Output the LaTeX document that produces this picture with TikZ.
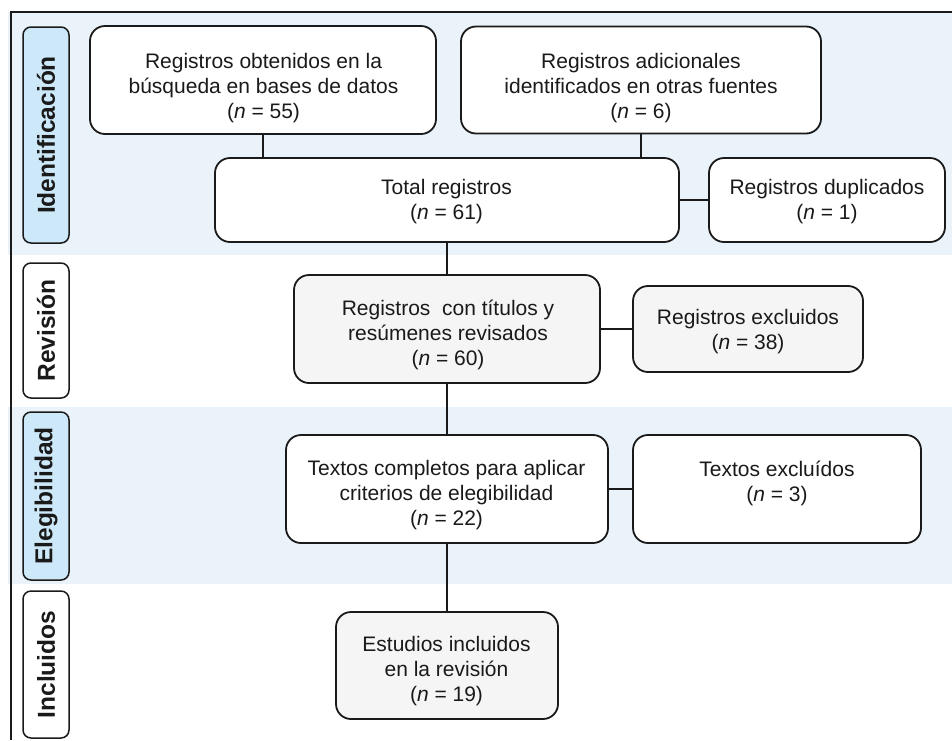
\documentclass[tikz,border=0pt]{standalone}
\usepackage{fontspec}
\setmainfont{Liberation Sans}
\definecolor{bandblue}{HTML}{EAF2FA}
\definecolor{labblue}{HTML}{CDE9F9}
\definecolor{boxgray}{HTML}{F5F5F5}
\definecolor{ink}{HTML}{1A1A1A}
\tikzset{
  box/.style={draw=ink, line width=1.8pt, rounded corners=15pt, inner sep=0pt},
  whitebox/.style={box, fill=white},
  graybox/.style={box, fill=boxgray},
  txt/.style={align=center, inner sep=0pt, font=\fontsize{21}{25}\selectfont, text=ink},
  phase/.style={draw=ink, line width=1.5pt, rounded corners=8pt, minimum width=46pt, inner sep=0pt},
  phasetxt/.style={rotate=90, inner sep=0pt, font=\fontsize{24.5}{28}\selectfont\bfseries, text=ink},
  conn/.style={draw=ink, line width=1.8pt}
}
\begin{document}
\begin{tikzpicture}[x=1pt,y=-1pt]
\useasboundingbox (0,0) rectangle (952,740);
\fill[white] (0,0) rectangle (952,740);
% bands
\fill[bandblue] (8,12) rectangle (952,255);
\fill[bandblue] (8,407) rectangle (952,584);
% frame
\draw[ink, line width=1.5pt] (11,740) -- (11,12) -- (952,12);
% phase labels
\node[phase, fill=labblue, minimum height=216pt] (p1) at (46,135) {};
\node[phasetxt] (p1t) at (p1) {Identificación};
\node[phase, fill=white, minimum height=135pt] (p2) at (46,330.5) {};
\node[phasetxt] (p2t) at (p2) {Revisión};
\node[phase, fill=labblue, minimum height=168pt] (p3) at (46,496) {};
\node[phasetxt] (p3t) at (p3) {Elegibilidad};
\node[phase, fill=white, minimum height=147pt] (p4) at (46,664.5) {};
\node[phasetxt] (p4t) at (p4) {Incluidos};
% boxes
\node[whitebox, minimum width=346pt, minimum height=108pt] (b1) at (263,80) {};
\node[whitebox, minimum width=360pt, minimum height=107pt] (b2) at (641,80) {};
\node[whitebox, minimum width=464pt, minimum height=84pt] (b3) at (447,200) {};
\node[whitebox, minimum width=236pt, minimum height=84pt] (b4) at (827,200) {};
\node[graybox, minimum width=306pt, minimum height=108pt] (b5) at (447,329) {};
\node[graybox, minimum width=230pt, minimum height=86pt] (b6) at (748,329) {};
\node[whitebox, minimum width=322pt, minimum height=108pt] (b7) at (447,489) {};
\node[whitebox, minimum width=288pt, minimum height=108pt] (b8) at (777,489) {};
\node[graybox, minimum width=222pt, minimum height=107pt] (b9) at (447,665.5) {};
% texts
\node[txt] (t1) at (263.5,88) {Registros obtenidos en la\\búsqueda en bases de datos\\(\textit{n} = 55)};
\node[txt] (t2) at (641,88) {Registros adicionales\\identificados en otras fuentes\\(\textit{n} = 6)};
\node[txt] (t3) at (446.5,202) {Total registros\\(\textit{n} = 61)};
\node[txt] (t4) at (827,202) {Registros duplicados\\(\textit{n} = 1)};
\node[txt] (t5) at (448,335) {Registros\ \ con títulos y\\resúmenes revisados\\(\textit{n} = 60)};
\node[txt] (t6) at (748,332) {Registros excluidos\\(\textit{n} = 38)};
\node[txt] (t7) at (446.5,495) {Textos completos para aplicar\\criterios de elegibilidad\\(\textit{n} = 22)};
\node[txt] (t8) at (777,483) {Textos excluídos\\(\textit{n} = 3)};
\node[txt] (t9) at (446.5,671) {Estudios incluidos\\en la revisión\\(\textit{n} = 19)};
% connectors
\draw[conn] (b1.south) -- (b1.south |- b3.north);
\draw[conn] (b2.south) -- (b2.south |- b3.north);
\draw[conn] (b3.east) -- (b4.west);
\draw[conn] (b3.south) -- (b3.south |- b5.north);
\draw[conn] (b5.east) -- (b5.east -| b6.west);
\draw[conn] (b5.south) -- (b5.south |- b7.north);
\draw[conn] (b7.east) -- (b7.east -| b8.west);
\draw[conn] (b7.south) -- (b7.south |- b9.north);
\end{tikzpicture}
\end{document}
